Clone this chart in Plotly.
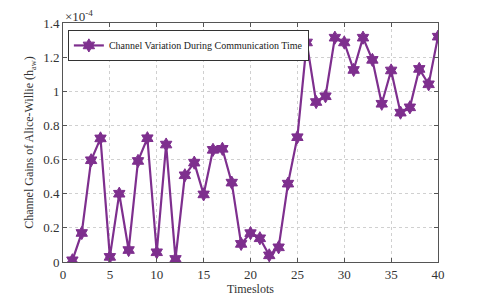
import plotly.graph_objects as go

timeslots = list(range(1, 41))
gains_e4 = [0.01, 0.17, 0.596, 0.724, 0.03, 0.40, 0.07, 0.592, 0.725, 0.057,
            0.688, 0.018, 0.508, 0.582, 0.396, 0.657, 0.663, 0.465, 0.106, 0.169,
            0.139, 0.039, 0.086, 0.459, 0.731, 1.286, 0.937, 0.971, 1.314, 1.286,
            1.125, 1.314, 1.184, 0.927, 1.122, 0.875, 0.906, 1.131, 1.041, 1.320]
x_ticks = [0, 5, 10, 15, 20, 25, 30, 35, 40]
y_ticks = [0, 0.2, 0.4, 0.6, 0.8, 1.0, 1.2, 1.4]
y_tick_text = ["0", "0.2", "0.4", "0.6", "0.8", "1", "1.2", "1.4"]

purple = "#7E2F8E"
font = "Liberation Serif, Times New Roman, Times, serif"

fig = go.Figure()
fig.add_trace(go.Scatter(
    x=timeslots, y=gains_e4, mode="lines+markers",
    name="Channel Variation During Communication Time",
    line=dict(color=purple, width=2.2),
    marker=dict(symbol="hexagram", size=10, color=purple,
                line=dict(color=purple, width=1)),
))

axis_common = dict(showline=True, linecolor="#555555", linewidth=1, mirror="ticks",
                   ticks="inside", ticklen=4, tickcolor="#555555", automargin=False,
                   showgrid=True, gridcolor="#d0d0d0", griddash="dot", gridwidth=1,
                   zeroline=False, tickfont=dict(family=font, size=13, color="#333333"))

fig.update_xaxes(range=[0, 40], tickvals=x_ticks,
                 title=dict(text="Timeslots", font=dict(family=font, size=12, color="#333333"), standoff=0),
                 **axis_common)
fig.update_yaxes(range=[0, 1.4], tickvals=y_ticks, ticktext=y_tick_text,
                 title=dict(text="Channel Gains of Alice-Willie (h<sub>aw</sub>)",
                            font=dict(family=font, size=12, color="#333333"), standoff=6),
                 **axis_common)

fig.add_annotation(text="×10<sup>-4</sup>", xref="paper", yref="paper", x=0, y=1.0,
                   xanchor="left", yanchor="bottom", showarrow=False, yshift=-3,
                   font=dict(family=font, size=13, color="#333333"))

fig.update_layout(
    width=485, height=295,
    margin=dict(l=55, r=55, t=15, b=41, autoexpand=False),
    paper_bgcolor="white", plot_bgcolor="white",
    font=dict(family=font, color="#333333"),
    showlegend=True,
    legend=dict(x=0.013, y=0.971, xanchor="left", yanchor="top",
                bgcolor="white", bordercolor="#333333", borderwidth=1,
                font=dict(family=font, size=10, color="#222222"),
                itemwidth=30, tracegroupgap=0),
)

fig.write_html("out.html")
